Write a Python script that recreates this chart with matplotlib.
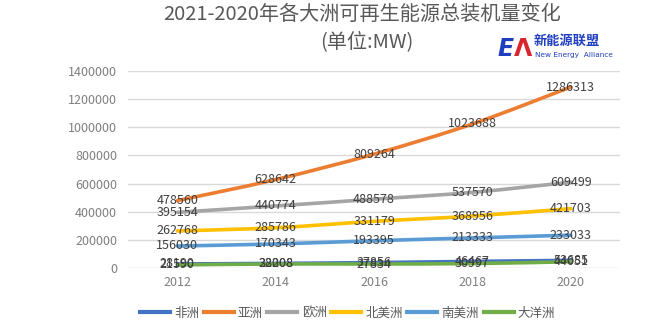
import matplotlib
matplotlib.use('Agg')
import matplotlib.pyplot as plt
from matplotlib.path import Path
from matplotlib.patches import PathPatch
from matplotlib.lines import Line2D
import numpy as np

plt.rcParams['font.family'] = ['Noto Sans CJK SC', 'DejaVu Sans']

years = ['2012', '2014', '2016', '2018', '2020']
regions = ['非洲', '亚洲', '欧洲', '北美洲', '南美洲', '大洋洲']
africa = [28190, 32208, 37856, 46467, 53685]
asia = [478560, 628642, 809264, 1023688, 1286313]
europe = [395154, 440774, 488578, 537570, 609499]
north_america = [262768, 285786, 331179, 368956, 421703]
south_america = [156030, 170343, 193395, 213333, 233033]
oceania = [21590, 28008, 27834, 30997, 44051]
series = [africa, asia, europe, north_america, south_america, oceania]
colors = ['#4472C4', '#ED7D31', '#A5A5A5', '#FFC000', '#5B9BD5', '#70AD47']


# smooth line through the points, catmull-rom turned into cubic bezier segments
def smooth_path(xs, ys):
    pts = np.column_stack([xs, ys]).astype(float)
    verts = [pts[0]]
    codes = [Path.MOVETO]
    n = len(pts)
    for i in range(n - 1):
        p0 = pts[max(i - 1, 0)]
        p1 = pts[i]
        p2 = pts[i + 1]
        p3 = pts[min(i + 2, n - 1)]
        c1 = p1 + (p2 - p0) / 6.0
        c2 = p2 - (p3 - p1) / 6.0
        verts += [c1, c2, p2]
        codes += [Path.CURVE4] * 3
    return Path(verts, codes)


fig = plt.figure(figsize=(6.71, 3.32), dpi=100)
ax = fig.add_axes([0.191, 0.193, 0.733, 0.593])

x = np.arange(len(years))
for vals, col in zip(series, colors):
    patch = PathPatch(smooth_path(x, vals), facecolor='none', edgecolor=col,
                      linewidth=2.6, capstyle='round', joinstyle='round', zorder=3)
    ax.add_patch(patch)

# value labels sit right on the points
for vals in series:
    for xi, v in zip(x, vals):
        ax.text(xi, v, str(v), ha='center', va='center', fontsize=9,
                color='#404040', zorder=4)

ax.set_xlim(-0.5, len(years) - 0.5)
ax.set_ylim(0, 1400000)
ax.set_yticks(np.arange(0, 1400001, 200000))
ax.set_yticklabels([str(v) for v in range(0, 1400001, 200000)])
ax.set_xticks(x)
ax.set_xticklabels(years)
ax.tick_params(length=0, labelsize=9, colors='#7f7f7f', pad=6)
ax.tick_params(axis='y', pad=8)
ax.grid(axis='y', color='#d9d9d9', linewidth=1)
ax.set_axisbelow(True)
for s in ax.spines.values():
    s.set_visible(False)

handles = [Line2D([0], [0], color=c, linewidth=3) for c in colors]
fig.legend(handles, regions, loc='center', bbox_to_anchor=(0.518, 0.057), ncol=6,
           frameon=False, fontsize=9, handlelength=2.4, handletextpad=0.35,
           columnspacing=0.35, labelcolor='#595959')

fig.text(0.54, 0.955, '2021-2020年各大洲可再生能源总装机量变化', ha='center', va='center',
         fontsize=14.5, color='#595959')
fig.text(0.547, 0.875, '(单位:MW)', ha='center', va='center', fontsize=14.5,
         color='#595959')

# alliance logo
fig.text(0.741, 0.853, 'E', ha='left', va='center', fontsize=17, fontweight='bold',
         style='italic', color='#1f3fbf', family='DejaVu Sans')
fig.text(0.766, 0.853, 'Λ', ha='left', va='center', fontsize=17, fontweight='bold',
         color='#d9262e', family='DejaVu Sans')
fig.text(0.796, 0.876, '新能源联盟', ha='left', va='center', fontsize=9.5,
         fontweight='bold', color='#1f3fbf')
fig.text(0.797, 0.835, 'New Energy  Alliance', ha='left', va='center', fontsize=5.3,
         color='#1f3fbf', family='DejaVu Sans')

fig.savefig('out.png', dpi=100, facecolor='white')
